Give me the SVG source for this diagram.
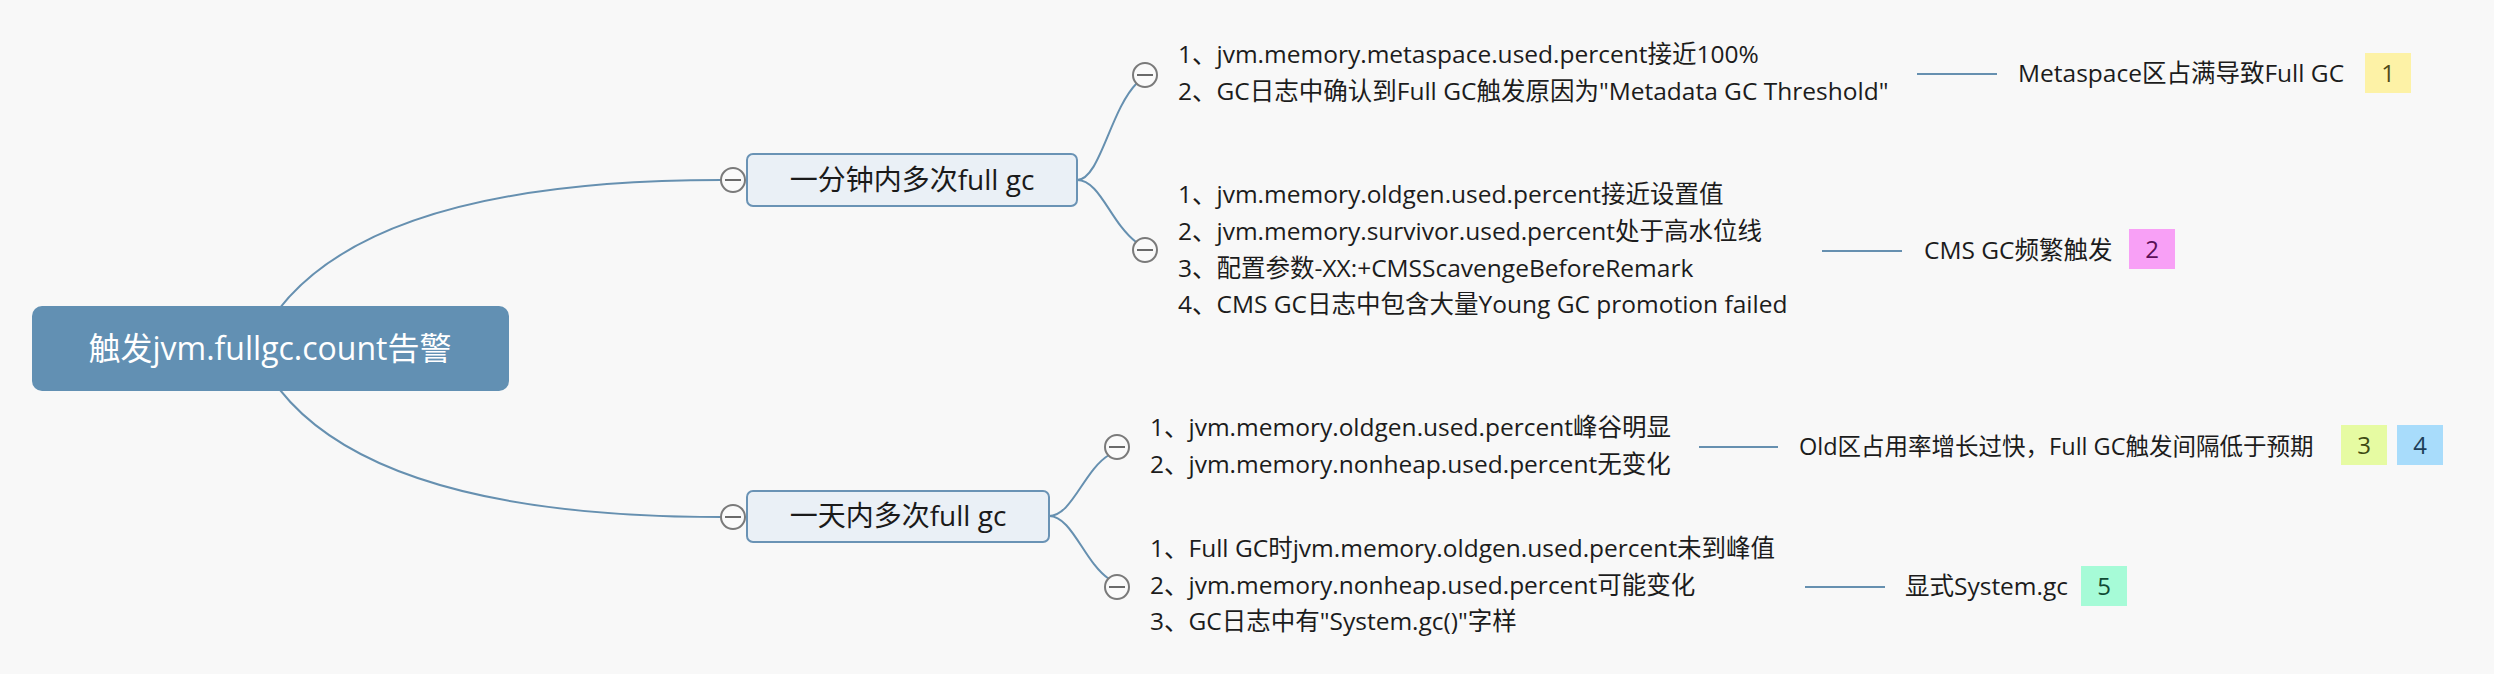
<svg xmlns="http://www.w3.org/2000/svg" width="2494" height="674" viewBox="0 0 2494 674">
<style>
.conn{fill:none;stroke:#6690b0;stroke-width:2}
.tg circle{fill:#fafafa;stroke:#7a7a7a;stroke-width:2}
.tg line{stroke:#6a6a6a;stroke-width:2}
.t{font-family:"Open Sans","Noto Sans CJK SC",sans-serif;font-size:24.5px;fill:#1c1c1c}
.topic rect{fill:#eaf0f6;stroke:#6a93b5;stroke-width:2}
.topic text{font-family:"Open Sans","Noto Sans CJK SC",sans-serif;font-size:28px;fill:#1a1a1a;text-anchor:middle}
.tag text{font-family:"Open Sans","Noto Sans CJK SC",sans-serif;font-size:24px;text-anchor:middle}
</style>
<rect x="0" y="0" width="2494" height="674" fill="#f8f8f8"/>

<g id="connectors">
  <path class="conn" d="M255,349 Q330,180 721,180"/>
  <path class="conn" d="M255,349 Q330,517 721,517"/>
  <path class="conn" d="M1077,180 C1100,180 1110,110 1137,83"/>
  <path class="conn" d="M1077,180 C1100,180 1110,222 1136,242"/>
  <path class="conn" d="M1049,516 C1072,516 1084,470 1109,455"/>
  <path class="conn" d="M1049,516 C1072,516 1084,562 1109,579"/>
  <line class="conn" x1="1917" y1="74" x2="1997" y2="74"/>
  <line class="conn" x1="1822" y1="251" x2="1902" y2="251"/>
  <line class="conn" x1="1699" y1="447" x2="1778" y2="447"/>
  <line class="conn" x1="1805" y1="587" x2="1885" y2="587"/>
</g>

<g id="root">
  <rect x="32" y="306" width="477" height="85" rx="10" fill="#6290b3"/>
  <text x="270" y="360" font-family="Open Sans, Noto Sans CJK SC, sans-serif" font-size="32" fill="#ffffff" text-anchor="middle">触发jvm.fullgc.count告警</text>
</g>

<g id="topic-minute" class="topic">
  <g class="tg"><circle cx="733" cy="180" r="12"/><line x1="725" y1="180" x2="741" y2="180"/></g>
  <rect x="747" y="154" width="330" height="52" rx="6"/>
  <text x="912" y="190">一分钟内多次full gc</text>
</g>

<g id="topic-day" class="topic">
  <g class="tg"><circle cx="733" cy="517" r="12"/><line x1="725" y1="517" x2="741" y2="517"/></g>
  <rect x="747" y="491" width="302" height="51" rx="6"/>
  <text x="898" y="526">一天内多次full gc</text>
</g>

<g id="sub-metaspace">
  <g class="tg"><circle cx="1145" cy="75" r="12"/><line x1="1137" y1="75" x2="1153" y2="75"/></g>
  <text class="t" x="1178" y="63">1、jvm.memory.metaspace.used.percent接近100%</text>
  <text class="t" x="1178" y="100">2、GC日志中确认到Full GC触发原因为"Metadata GC Threshold"</text>
</g>

<g id="sub-cms">
  <g class="tg"><circle cx="1145" cy="250" r="12"/><line x1="1137" y1="250" x2="1153" y2="250"/></g>
  <text class="t" x="1178" y="203">1、jvm.memory.oldgen.used.percent接近设置值</text>
  <text class="t" x="1178" y="240">2、jvm.memory.survivor.used.percent处于高水位线</text>
  <text class="t" x="1178" y="277">3、配置参数-XX:+CMSScavengeBeforeRemark</text>
  <text class="t" x="1178" y="313">4、CMS GC日志中包含大量Young GC promotion failed</text>
</g>

<g id="sub-oldgen">
  <g class="tg"><circle cx="1117" cy="447" r="12"/><line x1="1109" y1="447" x2="1125" y2="447"/></g>
  <text class="t" x="1150" y="436">1、jvm.memory.oldgen.used.percent峰谷明显</text>
  <text class="t" x="1150" y="473">2、jvm.memory.nonheap.used.percent无变化</text>
</g>

<g id="sub-systemgc">
  <g class="tg"><circle cx="1117" cy="587" r="12"/><line x1="1109" y1="587" x2="1125" y2="587"/></g>
  <text class="t" x="1150" y="557">1、Full GC时jvm.memory.oldgen.used.percent未到峰值</text>
  <text class="t" x="1150" y="594">2、jvm.memory.nonheap.used.percent可能变化</text>
  <text class="t" x="1150" y="630">3、GC日志中有"System.gc()"字样</text>
</g>

<g id="cause-metaspace">
  <text class="t" x="2018" y="82">Metaspace区占满导致Full GC</text>
  <g class="tag"><rect x="2365" y="53" width="46" height="40" fill="#fdf2a6"/><text x="2388" y="82" fill="#4f4a18">1</text></g>
</g>

<g id="cause-cms">
  <text class="t" x="1924" y="259">CMS GC频繁触发</text>
  <g class="tag"><rect x="2129" y="229" width="46" height="40" fill="#f8a0f6"/><text x="2152" y="258" fill="#5a0f57">2</text></g>
</g>

<g id="cause-oldgen">
  <text class="t" x="1799" y="455" style="font-size:23.5px">Old区占用率增长过快，Full GC触发间隔低于预期</text>
  <g class="tag"><rect x="2341" y="425" width="46" height="40" fill="#e6fba2"/><text x="2364" y="454" fill="#3e4b13">3</text></g>
  <g class="tag"><rect x="2397" y="425" width="46" height="40" fill="#a8dcfb"/><text x="2420" y="454" fill="#1d3e58">4</text></g>
</g>

<g id="cause-systemgc">
  <text class="t" x="1905" y="595">显式System.gc</text>
  <g class="tag"><rect x="2081" y="566" width="46" height="40" fill="#a6fbd7"/><text x="2104" y="595" fill="#104a34">5</text></g>
</g>
</svg>
